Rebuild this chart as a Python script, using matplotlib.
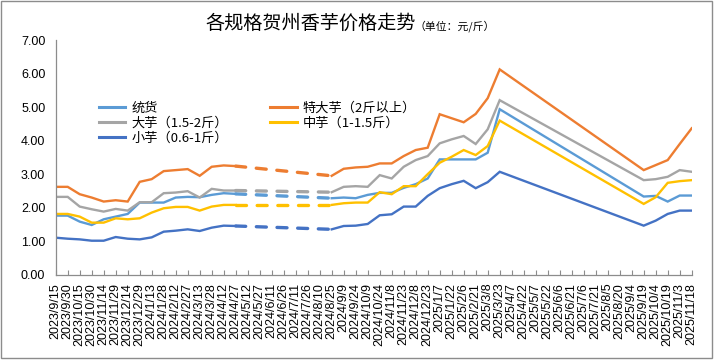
import numpy as np
import matplotlib
matplotlib.use("Agg")
import matplotlib.pyplot as plt
from matplotlib.lines import Line2D
from matplotlib.patches import Rectangle

dates = ["2023/9/15", "2023/9/30", "2023/10/15", "2023/10/30", "2023/11/14", "2023/11/29",
         "2023/12/14", "2023/12/29", "2024/1/13", "2024/1/28", "2024/2/12", "2024/2/27",
         "2024/3/13", "2024/3/28", "2024/4/12", "2024/4/27", "2024/5/12", "2024/5/27",
         "2024/6/11", "2024/6/26", "2024/7/11", "2024/7/26", "2024/8/10", "2024/8/25",
         "2024/9/9", "2024/9/24", "2024/10/9", "2024/10/24", "2024/11/8", "2024/11/23",
         "2024/12/8", "2024/12/23", "2025/1/7", "2025/1/22", "2025/2/6", "2025/2/21",
         "2025/3/8", "2025/3/23", "2025/4/7", "2025/4/22", "2025/5/7", "2025/5/22",
         "2025/6/6", "2025/6/21", "2025/7/6", "2025/7/21", "2025/8/5", "2025/8/20",
         "2025/9/4", "2025/9/19", "2025/10/4", "2025/10/19", "2025/11/3", "2025/11/18"]

N = None
gap = [N] * 7    # 2024/5/12 .. 2024/8/10 : no quotes (dashed link)
gap2 = [N] * 11  # 2025/4/7 .. 2025/9/4 : no quotes

tonghuo = ([1.76, 1.76, 1.58, 1.48, 1.65, 1.73, 1.81, 2.15, 2.15, 2.15, 2.30, 2.32,
            2.31, 2.38, 2.43, 2.41] + gap +
           [2.28, 2.30, 2.28, 2.38, 2.44, 2.44, 2.59, 2.70, 2.87, 3.44, 3.44, 3.44,
            3.44, 3.64, 4.94] + gap2 +
           [2.33, 2.35, 2.18, 2.36, 2.36])
tedayu = ([2.62, 2.62, 2.40, 2.30, 2.18, 2.22, 2.18, 2.77, 2.85, 3.09, 3.12, 3.15,
           2.95, 3.22, 3.26, 3.24] + gap +
          [2.95, 3.16, 3.20, 3.22, 3.32, 3.32, 3.54, 3.72, 3.79, 4.79, 4.67, 4.55,
           4.80, 5.27, 6.13] + gap2 +
          [3.12, 3.27, 3.42, 3.90, 4.37])
dayu = ([2.32, 2.32, 2.03, 1.95, 1.88, 1.96, 1.91, 2.16, 2.16, 2.43, 2.45, 2.49,
         2.30, 2.56, 2.51, 2.51] + gap +
        [2.46, 2.62, 2.64, 2.62, 2.97, 2.87, 3.22, 3.42, 3.54, 3.92, 4.04, 4.14,
         3.90, 4.34, 5.21] + gap2 +
        [2.82, 2.85, 2.92, 3.12, 3.07])
zhongyu = ([1.81, 1.81, 1.73, 1.55, 1.55, 1.68, 1.65, 1.68, 1.85, 1.98, 2.02, 2.02,
            1.91, 2.03, 2.08, 2.08] + gap +
           [2.08, 2.13, 2.15, 2.15, 2.46, 2.40, 2.64, 2.64, 3.00, 3.34, 3.52, 3.72,
            3.57, 3.84, 4.60] + gap2 +
           [2.11, 2.31, 2.74, 2.79, 2.82])
xiaoyu = ([1.10, 1.07, 1.05, 1.01, 1.01, 1.12, 1.07, 1.05, 1.11, 1.28, 1.31, 1.35,
           1.30, 1.40, 1.46, 1.45] + gap +
          [1.35, 1.45, 1.46, 1.51, 1.77, 1.80, 2.03, 2.03, 2.35, 2.58, 2.70, 2.80,
           2.58, 2.76, 3.07] + gap2 +
          [1.46, 1.61, 1.81, 1.91, 1.91])

names = ["统货", "特大芋（2斤以上）", "大芋（1.5-2斤）", "中芋（1-1.5斤）", "小芋（0.6-1斤）"]
colors = ["#5B9BD5", "#ED7D31", "#A5A5A5", "#FFC000", "#4472C4"]
series = [tonghuo, tedayu, dayu, zhongyu, xiaoyu]

plt.rcParams["font.family"] = ["Liberation Sans", "Noto Sans CJK SC", "DejaVu Sans"]
CJK = ["Noto Sans CJK SC", "DejaVu Sans"]

fig = plt.figure(figsize=(7.14, 3.60), dpi=100)
ax = fig.add_axes([55.7 / 714, 1 - 274.5 / 360, 636 / 714, (274.5 - 40.3) / 360])

x = np.arange(len(dates))
dash_start, dash_end = 15, 23
lw = 1.7
for vals, c in zip(series, colors):
    y = np.array([np.nan if v is None else v for v in vals], dtype=float)
    m = ~np.isnan(y)
    a = m & (x <= dash_start)
    b = m & (x >= dash_end)
    ax.plot(x[a], y[a], color=c, lw=lw, solid_joinstyle="miter")
    ax.plot(x[b], y[b], color=c, lw=lw, solid_joinstyle="miter")
    ax.plot([dash_start, dash_end], [y[dash_start], y[dash_end]], color=c, lw=2.4,
            linestyle=(0, (3.0, 3.2)), dash_capstyle="round")

ax.set_xlim(0, len(dates) - 1)
ax.set_ylim(0, 7)
ax.set_yticks(np.arange(0, 7.01, 1))
ax.set_yticklabels([f"{v:.2f}" for v in np.arange(0, 7.01, 1)])
ax.set_xticks(x)
ax.set_xticklabels(dates, rotation=90, ha="center", va="top")

for s in ["top", "right"]:
    ax.spines[s].set_visible(False)
for s in ["left", "bottom"]:
    ax.spines[s].set_color("#8C8C8C")
    ax.spines[s].set_linewidth(0.9)
ax.tick_params(axis="x", direction="in", length=3.5, width=0.8, color="#8C8C8C",
               labelsize=9, pad=6, labelcolor="#000000")
ax.tick_params(axis="y", length=0, labelsize=9, pad=7.5, labelcolor="#000000")

handles = [Line2D([], [], color=c, lw=2.2) for c in colors]
order = [0, 2, 4, 1, 3]
leg = fig.legend([handles[i] for i in order], [names[i] for i in order],
                 loc="upper left", bbox_to_anchor=(99 / 714, 1 - 102 / 360),
                 bbox_transform=fig.transFigure, ncol=2, frameon=False,
                 prop={"family": CJK, "size": 9.5}, handlelength=2.0,
                 handletextpad=0.45, columnspacing=3.2, labelspacing=0.15,
                 borderpad=0, borderaxespad=0)

fig.text(416 / 714, 1 - 29 / 360, "各规格贺州香芋价格走势", ha="right", va="baseline",
         fontsize=13.8, family=CJK, color="#000000")
fig.text(414 / 714, 1 - 29 / 360, "（单位：元/斤）", ha="left", va="baseline",
         fontsize=7.8, family=CJK, color="#000000")

fig.patches.append(Rectangle((1 / 714, 2 / 360), 711 / 714, 357 / 360,
                             transform=fig.transFigure, fill=False,
                             edgecolor="#8C8C8C", lw=1.0))

fig.savefig("out.png", dpi=100)
